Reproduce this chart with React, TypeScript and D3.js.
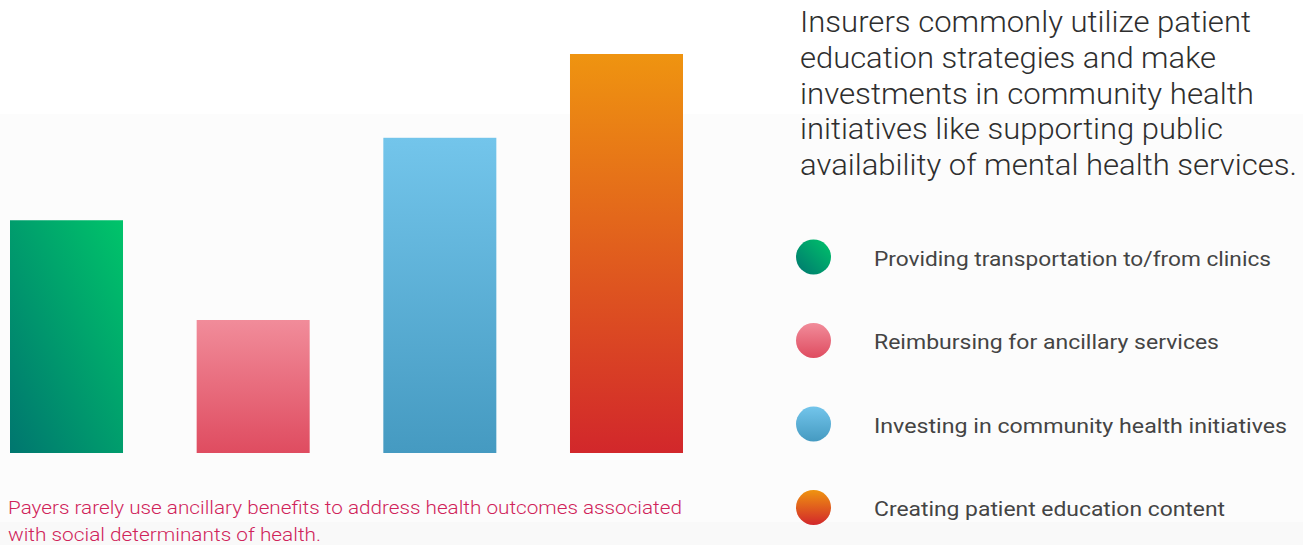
import React from "react";
import * as d3 from "d3";

const categories = [
  "Providing transportation to/from clinics",
  "Reimbursing for ancillary services",
  "Investing in community health initiatives",
  "Creating patient education content",
];
const values = [35, 20, 47.4, 60];
const gradients = [
  { id: "g0", from: "#00766f", to: "#00c46a", diag: true },
  { id: "g1", from: "#df4c60", to: "#f18c9a", diag: false },
  { id: "g2", from: "#459ac1", to: "#73c5eb", diag: false },
  { id: "g3", from: "#d2272b", to: "#ef9410", diag: false },
];
const titleLines = [
  "Insurers commonly utilize patient",
  "education strategies and make",
  "investments in community health",
  "initiatives like supporting public",
  "availability of mental health services.",
];
const titleWidths = [451, 416, 454, 423, 497];
const legendWidths = [397, 345, 413, 351];
const footLines = [
  "Payers rarely use ancillary benefits to address health outcomes associated",
  "with social determinants of health.",
];
const footWidths = [674, 313];

export default function App() {
  const W = 1303, H = 545;
  const x = d3.scaleBand<string>().domain(categories).range([10, 683]).paddingInner(0.3946).paddingOuter(0);
  const y = d3.scaleLinear().domain([0, 60]).range([453, 54]);
  const legendY = d3.scalePoint<string>().domain(categories).range([257, 507.5]);

  return (
    <svg width={W} height={H} style={{ position: "absolute", left: 0, top: 0 }}>
      <defs>
        {gradients.map((g) => (
          <linearGradient key={g.id} id={g.id} x1="0" y1="1" x2={g.diag ? "1" : "0"} y2="0">
            <stop offset="0" stopColor={g.from} />
            <stop offset="1" stopColor={g.to} />
          </linearGradient>
        ))}
      </defs>
      <rect x={0} y={0} width={W} height={H} fill="#ffffff" />
      <rect x={0} y={114} width={W} height={H - 114} fill="#fcfcfc" />
      <rect x={0} y={522} width={W} height={H - 522} fill="#f9f9f9" />
      {categories.map((c, i) => (
        <rect key={c} x={x(c)} y={y(values[i])} width={x.bandwidth()} height={y(0) - y(values[i])} fill={`url(#${gradients[i].id})`} />
      ))}
      {titleLines.map((t, i) => (
        <text key={t} x={800} y={32 + i * 35.75} fontFamily="Roboto" fontWeight={300} fontSize={29.5} fill="#2e2e2e" textLength={titleWidths[i]} lengthAdjust="spacingAndGlyphs">
          {t}
        </text>
      ))}
      {categories.map((c, i) => (
        <g key={c}>
          <circle cx={813.5} cy={legendY(c)} r={17.5} fill={`url(#${gradients[i].id})`} />
          <text x={874} y={(legendY(c) as number) + 8.5} fontFamily="Roboto" fontSize={20.5} fill="#444444" textLength={legendWidths[i]} lengthAdjust="spacingAndGlyphs">
            {c}
          </text>
        </g>
      ))}
      {footLines.map((t, i) => (
        <text key={t} x={8} y={514 + i * 26.5} fontFamily="Roboto" fontWeight={300} fontSize={18.5} fill="#d0235a" textLength={footWidths[i]} lengthAdjust="spacingAndGlyphs">
          {t}
        </text>
      ))}
    </svg>
  );
}
